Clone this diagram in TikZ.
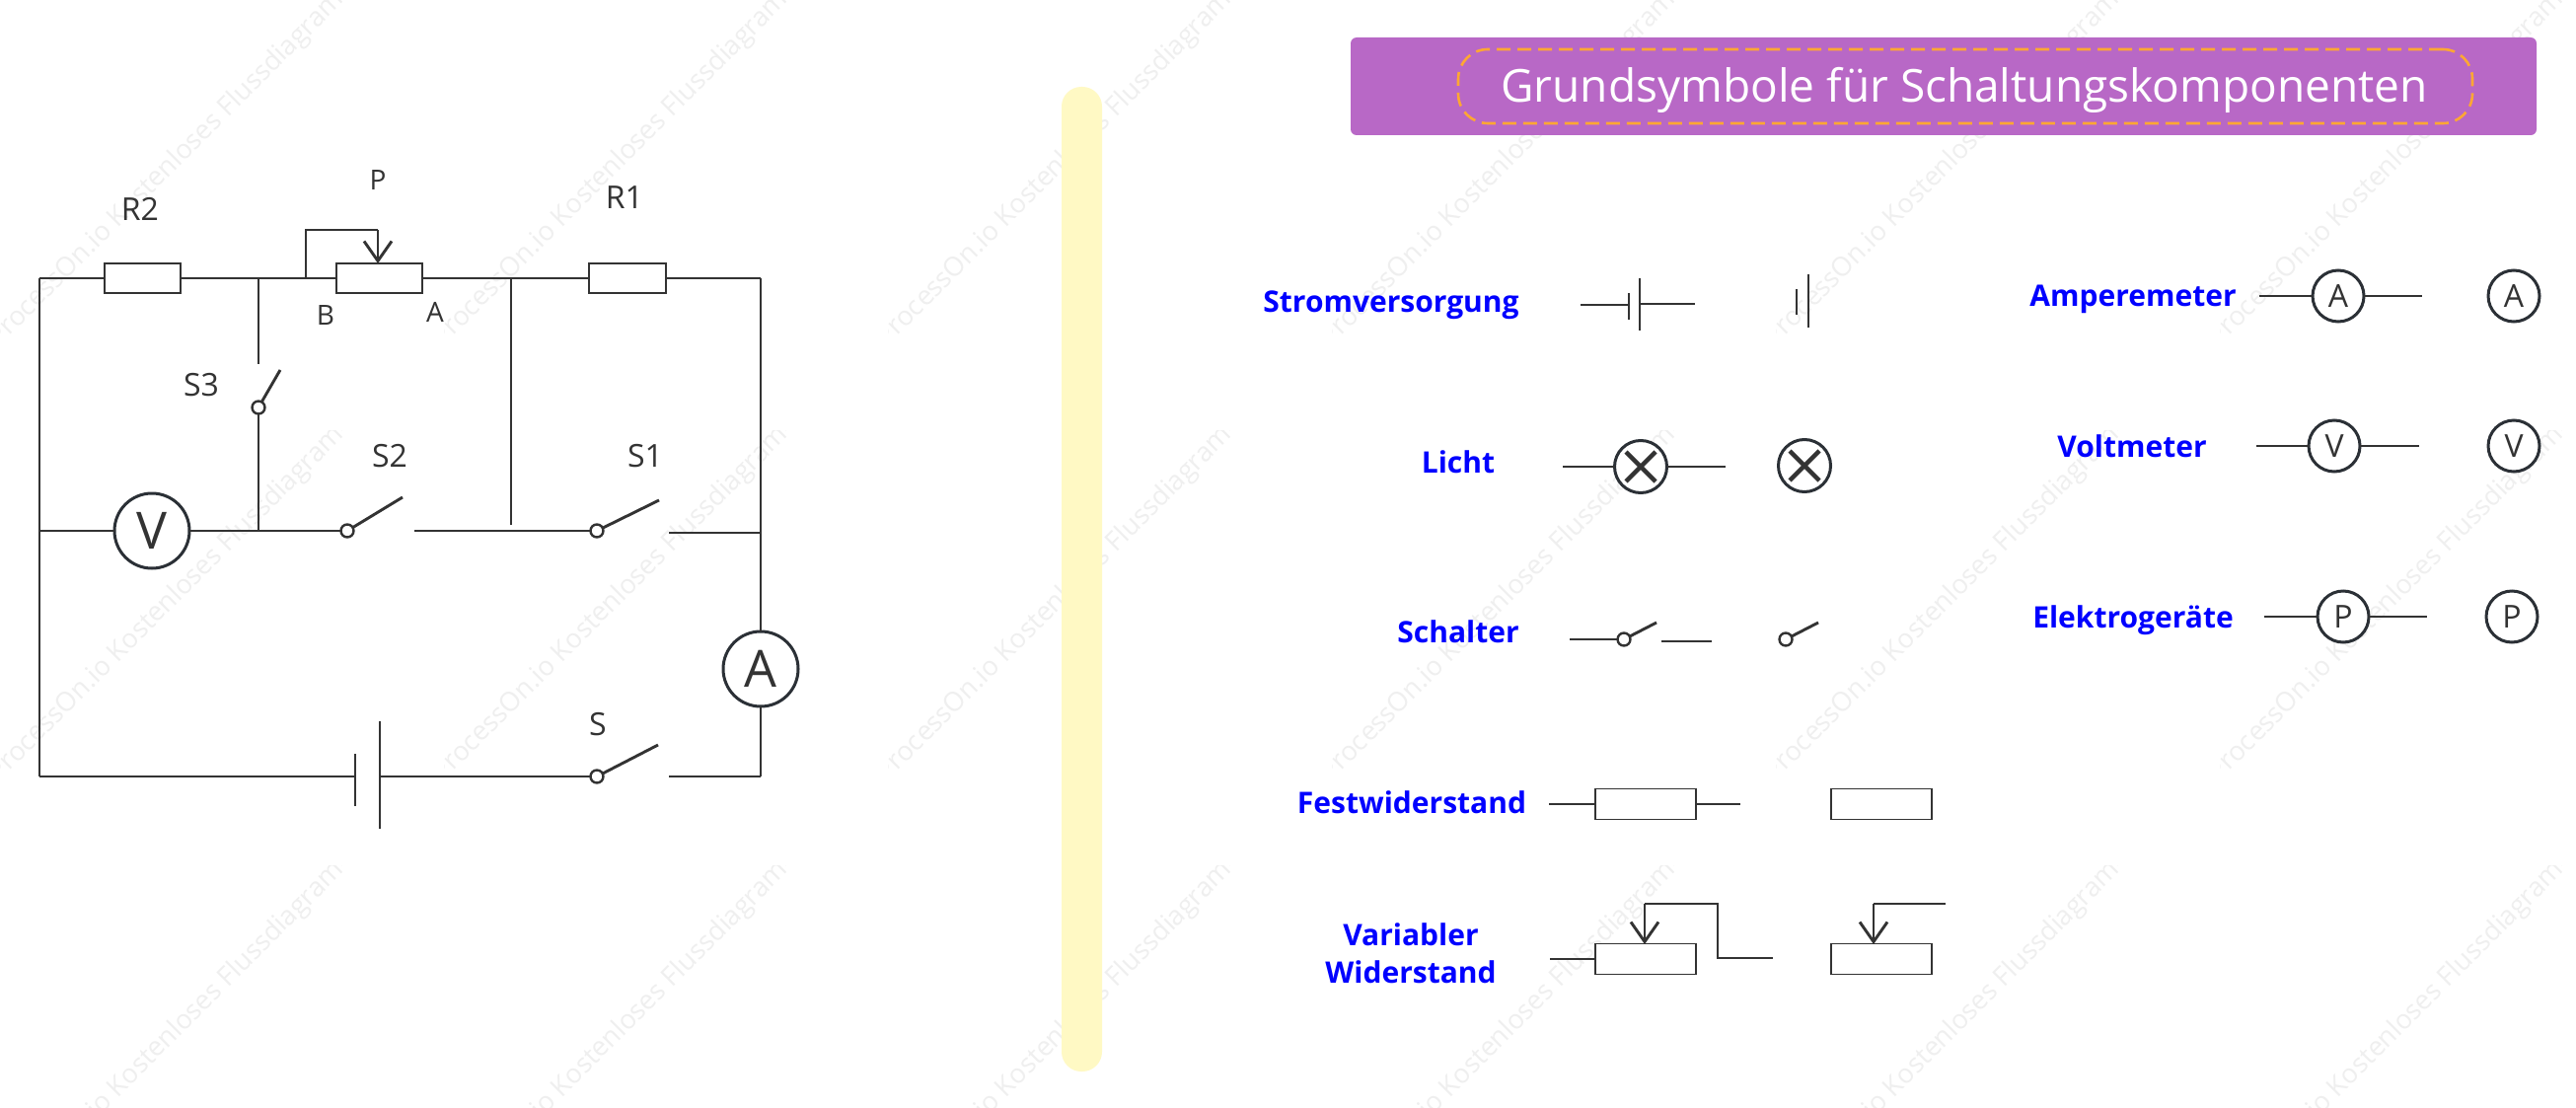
\documentclass[tikz,border=0pt]{standalone}
\usepackage{xcolor}
\usepackage{fontspec}
\setmainfont{Open Sans}
\usetikzlibrary{positioning, arrows.meta}
\definecolor{wirecol}{HTML}{333333}
\definecolor{ringcol}{HTML}{2B3036}
\definecolor{titlecol}{HTML}{B868C6}
\definecolor{dashcol}{HTML}{FFA733}
\definecolor{barcol}{HTML}{FFF9C4}
\definecolor{markcol}{HTML}{EFEFEF}

\begin{document}
\begin{tikzpicture}[
  x=0.5pt, y=-0.5pt,
  wire/.style={line width=1.45pt, draw=wirecol},
  thinwire/.style={line width=1.3pt, draw=wirecol},
  res/.style={draw=wirecol, fill=white, line width=0.8pt, minimum height=15pt, inner sep=0pt, outer sep=0pt},
  smallres/.style={res, minimum width=51pt, minimum height=15.5pt},
  swdot/.style={circle, draw=wirecol, fill=white, line width=1.2pt, minimum size=6.5pt, inner sep=0pt, outer sep=0pt},
  meter/.style={circle, draw=ringcol, fill=white, line width=1.5pt, minimum size=26pt, inner sep=0pt, outer sep=0pt, text=wirecol, font=\fontsize{16}{18}\selectfont},
  bigmeter/.style={meter, minimum size=38pt, font=\fontsize{26}{30}\selectfont},
  lamp/.style={meter, minimum size=26.5pt},
  lbl/.style={text=wirecol, inner sep=0pt, font=\fontsize{16}{18}\selectfont},
  smalllbl/.style={lbl, font=\fontsize{14}{16}\selectfont},
  cat/.style={text=blue, inner sep=0pt, align=center, font=\fontsize{15}{19}\selectfont\bfseries},
  pointer/.style={wire, -{Straight Barb[length=10pt, width=14pt]}}
]
\useasboundingbox (0,0) rectangle (2611,1123);
\fill[white] (0,0) rectangle (2611,1123);

% ===== Watermark =====
\foreach \wx in {0,450,...,2250} {
  \foreach \wy in {341,782,1223} {
    \begin{scope}
      \clip (\wx,\wy) rectangle ++(346,-346);
      \node[rotate=45, text=markcol, inner sep=0pt, font=\fontsize{13.5}{16}\selectfont] (mark\wx-\wy)
        at ({\wx+178},{\wy-178}) {ProcessOn.io Kostenloses Flussdiagramm};
    \end{scope}
  }
}

% ===== Circuit =====
\coordinate (tl) at (40,282);
\coordinate (tr) at (771,282);
\coordinate (bl) at (40,787);
\coordinate (br) at (771,787);

\node[res, minimum width=38.5pt, anchor=west] (r2) at (106,282) {};
\node[res, minimum width=43.5pt, right=79pt of r2] (pot) {};
\node[res, minimum width=39pt, right=84.5pt of pot] (r1) {};
\node[lbl] (r2lbl) at (142,212) {R2};
\node[lbl] (r1lbl) at (633,200) {R1};
\node[smalllbl] (plbl) at (383,183) {P};
\node[smalllbl] (blbl) at (330,320) {B};
\node[smalllbl] (albl) at (441,316) {A};

\draw[wire] (tl) -- (r2.west);
\draw[wire] (r2.east) -- (pot.west);
\draw[wire] (pot.east) -- (r1.west);
\draw[wire] (r1.east) -- (tr);
\draw[wire] (tl) -- (bl);

% slider
\coordinate (potfoot) at (310,282);
\coordinate (pottop) at (310,233);
\coordinate (potbend) at (383,233);
\coordinate (pottip) at (383,267);
\draw[wire] (potfoot) -- (pottop) -- (potbend);
\draw[pointer] (potbend) -- (pottip);

% S3 branch
\coordinate (s3top) at (262,282);
\coordinate (s3gap) at (262,369);
\coordinate (s3arm) at (284,375);
\coordinate (vjoin) at (262,538);
\node[swdot] (s3dot) at (262,413) {};
\node[lbl] (s3lbl) at (204,390) {S3};
\draw[wire] (s3top) -- (s3gap);
\draw[wire] (s3dot) -- (s3arm);
\draw[wire] (s3dot) -- (vjoin);

% middle row
\coordinate (vleft) at (40,538);
\coordinate (s2arm) at (408,504);
\coordinate (s2gap) at (420,538);
\coordinate (s1arm) at (668,507);
\coordinate (s1gap) at (678,540);
\coordinate (s1right) at (771,540);
\coordinate (midtop) at (518,282);
\coordinate (midfoot) at (518,532);
\node[bigmeter] (vm) at (154,538) {V};
\node[swdot] (s2dot) at (352,538) {};
\node[swdot] (s1dot) at (605,538) {};
\node[lbl] (s2lbl) at (395,462) {S2};
\node[lbl] (s1lbl) at (654,462) {S1};
\draw[wire] (vleft) -- (vm);
\draw[wire] (vm) -- (s2dot);
\draw[wire] (s2dot) -- (s2arm);
\draw[wire] (s2gap) -- (s1dot);
\draw[wire] (s1dot) -- (s1arm);
\draw[wire] (s1gap) -- (s1right);
\draw[wire] (midtop) -- (midfoot);

% right side and bottom row
\coordinate (cellshort) at (360,787);
\coordinate (shorttop) at (360,764);
\coordinate (shortbot) at (360,817);
\coordinate (longtop) at (385,731);
\coordinate (longbot) at (385,840);
\coordinate (longmid) at (385,787);
\coordinate (sarm) at (667,755);
\coordinate (sgap) at (678,787);
\node[bigmeter] (am) at (771,678) {A};
\node[swdot] (sdot) at (605,787) {};
\node[lbl] (slbl) at (606,734) {S};
\draw[wire] (tr) -- (am);
\draw[wire] (am) -- (br);
\draw[wire] (bl) -- (cellshort);
\draw[wire] (shorttop) -- (shortbot);
\draw[wire] (longtop) -- (longbot);
\draw[wire] (longmid) -- (sdot);
\draw[wire] (sdot) -- (sarm);
\draw[wire] (sgap) -- (br);

% ===== Divider =====
\fill[barcol, rounded corners=10pt] (1076,88) rectangle (1117,1086);

% ===== Title =====
\node[fill=titlecol, rounded corners=3pt, minimum width=601pt, minimum height=49.5pt, inner sep=0pt, outer sep=0pt] (banner) at (1970,87.5) {};
\node[draw=dashcol, line width=1.3pt, dash pattern=on 7pt off 3.5pt, rounded corners=15pt, minimum width=514pt, minimum height=37.5pt, inner sep=0pt] (frame) at (1992,87.5) {};
\node[text=white, inner sep=0pt, font=\fontsize{23}{28}\selectfont] (titletext) at (1991,91) {Grundsymbole für Schaltungskomponenten};

% ===== Power supply =====
\node[cat] (catpower) at (1410,309) {Stromversorgung};
\coordinate (pw1) at (1602,309);
\coordinate (pw2) at (1651,309);
\coordinate (pw3) at (1662,308);
\coordinate (pw4) at (1718,308);
\draw[wire] (pw1) -- (pw2);
\draw[wire] (pw3) -- (pw4);
\draw[wire] (1651,297) -- (1651,324);
\draw[wire] (1662,282) -- (1662,335);
\draw[wire] (1821,293) -- (1821,319);
\draw[wire] (1833,278) -- (1833,332);

% ===== Lamp =====
\node[cat] (catlamp) at (1478,468) {Licht};
\node[lamp] (lamp1) at (1663,473) {};
\node[lamp] (lamp2) at (1829,472) {};
\coordinate (lw1) at (1584,473);
\coordinate (lw2) at (1749,473);
\draw[wire] (lw1) -- (lamp1);
\draw[wire] (lamp1) -- (lw2);
\foreach \lampname in {lamp1,lamp2} {
  \draw[line width=2.2pt, draw=wirecol] ([xshift=-7.5pt,yshift=-7.5pt]\lampname.center) -- ([xshift=7.5pt,yshift=7.5pt]\lampname.center);
  \draw[line width=2.2pt, draw=wirecol] ([xshift=-7.5pt,yshift=7.5pt]\lampname.center) -- ([xshift=7.5pt,yshift=-7.5pt]\lampname.center);
}

% ===== Switch =====
\node[cat] (catswitch) at (1478,640) {Schalter};
\node[swdot] (swa) at (1646,648) {};
\node[swdot] (swb) at (1810,648) {};
\coordinate (swl) at (1591,648);
\coordinate (swaarm) at (1679,631);
\coordinate (swbarm) at (1843,631);
\coordinate (swg1) at (1684,650);
\coordinate (swg2) at (1735,650);
\draw[wire] (swl) -- (swa);
\draw[wire] (swa) -- (swaarm);
\draw[wire] (swb) -- (swbarm);
\draw[wire] (swg1) -- (swg2);

% ===== Fixed resistor =====
\node[cat] (catfix) at (1431,813) {Festwiderstand};
\node[smallres] (fix1) at (1668,815) {};
\node[smallres] (fix2) at (1907,815) {};
\coordinate (fl) at (1570,815);
\coordinate (fr) at (1764,815);
\draw[wire] (fl) -- (fix1);
\draw[wire] (fix1) -- (fr);

% ===== Variable resistor =====
\node[cat] (catvar) at (1430,966) {Variabler\\Widerstand};
\node[smallres] (var1) at (1668,972) {};
\node[smallres] (var2) at (1907,972) {};
\coordinate (vl) at (1571,972);
\coordinate (vr) at (1797,971);
\coordinate (va) at (1741,916);
\coordinate (vb) at (1741,971);
\coordinate (vc) at (1667,916);
\coordinate (vd) at (1899,916);
\coordinate (ve) at (1972,916);
\coordinate (vtipa) at (1667,957);
\coordinate (vtipb) at (1899,957);
\draw[wire] (vl) -- (var1);
\draw[wire] (vr) -- (vb) -- (va) -- (vc);
\draw[pointer] (vc) -- (vtipa);
\draw[wire] (ve) -- (vd);
\draw[pointer] (vd) -- (vtipb);

% ===== Meters =====
\node[cat] (catamp) at (2162,303) {Amperemeter};
\node[meter] (amp1) at (2370,300) {A};
\node[meter] (amp2) at (2548,300) {A};
\coordinate (al) at (2290,300);
\coordinate (ar) at (2455,300);
\draw[thinwire] (al) -- (amp1);
\draw[thinwire] (amp1) -- (ar);

\node[cat] (catvolt) at (2161,452) {Voltmeter};
\node[meter] (volt1) at (2366,452) {V};
\node[meter] (volt2) at (2548,452) {V};
\coordinate (ol) at (2287,452);
\coordinate (or) at (2452,452);
\draw[thinwire] (ol) -- (volt1);
\draw[thinwire] (volt1) -- (or);

\node[cat] (catdev) at (2162,629) {Elektrogeräte};
\node[meter] (dev1) at (2375,625) {P};
\node[meter] (dev2) at (2546,625) {P};
\coordinate (dl) at (2295,625);
\coordinate (dr) at (2460,625);
\draw[thinwire] (dl) -- (dev1);
\draw[thinwire] (dev1) -- (dr);

\end{tikzpicture}
\end{document}
